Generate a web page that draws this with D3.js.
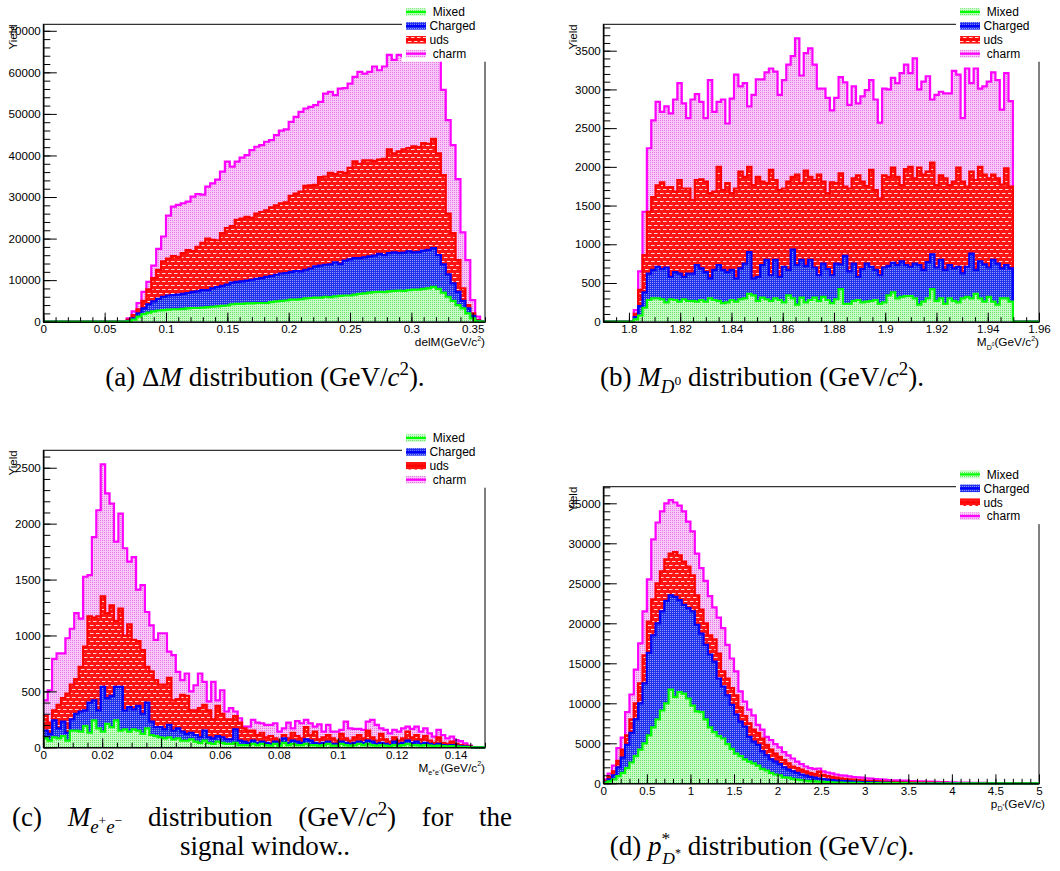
<!DOCTYPE html>
<html>
<head>
<meta charset="utf-8">
<title>D* background composition</title>
<script src="https://cdn.jsdelivr.net/npm/d3@7"></script>
<style>
  html, body { margin: 0; padding: 0; background: #ffffff; }
  svg { display: block; }
  text { white-space: pre; }
</style>
</head>
<body>
<svg id="figure" width="1060" height="871"></svg>
<script>
// Generic MC samples, stacked bottom to top
const samples = ["Mixed", "Charged", "uds", "charm"];

// (a) delM: 90 bins on [0, 0.36]; bins before the first filled bin are empty
const delMRange = [0, 0.36];
const delMBinCount = 90;
const delMFirstBin = 17;
const delMMixed = [100,500,1200,1800,2200,2500,2700,2800,2900,3000,
  3000,3100,3200,3300,3300,3400,3500,3600,3700,3800,
  3900,4200,4300,4300,4400,4400,4500,4500,4500,4700,
  4900,5000,5100,5300,5300,5400,5600,5700,5800,5800,
  6000,5900,6100,6200,6300,6300,6500,6700,6800,7000,
  7100,7200,7100,7300,7400,7500,7400,7600,7700,7700,
  7900,8000,8400,7900,7000,6000,5000,4000,3200,2000,
  800,100];
const delMCharged = [100,300,800,1400,2000,2400,2800,3200,3400,3400,
  3500,3600,3700,3900,4000,4200,4100,4400,4600,4800,
  5000,5200,5300,5400,5500,5700,5800,6000,6300,6300,
  6400,6600,6600,6700,6900,6700,6900,7100,7500,7700,
  7700,7900,8200,7700,8400,8700,8800,8600,8700,8700,
  8800,9100,8900,9200,9300,9000,9200,9300,9000,9100,
  9200,9300,9300,8100,6800,5400,4200,3200,1800,1200,
  600,100];
const delMUds = [300,800,1000,1800,3600,5600,7000,8500,8900,9400,
  9100,9800,10300,9800,10700,11400,12400,11700,11300,12700,
  13600,13600,14900,15100,15300,14900,15700,15900,16000,16500,
  16700,16900,17000,18300,18600,19200,20200,20000,19600,21300,
  21200,22000,21200,22100,21100,22000,23300,22700,23300,23100,
  22800,22700,23200,25000,23800,24500,24900,24900,25500,25200,
  25900,25500,26300,24500,21500,14600,12100,7600,3000,800,
  600,200];
const delMCharm = [300,900,1500,2200,1800,3000,5000,6000,10300,11900,
  12500,12000,11700,13100,12700,11600,12500,13600,14600,14800,
  16000,14300,14000,14700,14900,16300,16100,16100,16500,16200,
  16900,17500,17600,17800,18500,19200,18600,18900,19200,18100,
  20000,19500,19000,20100,20400,20300,20300,22100,20900,21300,
  22700,21500,22200,22700,22500,23200,22400,22600,21600,22600,
  21300,21700,20100,23100,20500,22500,21200,19500,13500,10800,
  3200,800];
const delMXTicks = [0, 0.05, 0.1, 0.15, 0.2, 0.25, 0.3, 0.35];
const delMYTicks = [0, 10000, 20000, 30000, 40000, 50000, 60000, 70000];

// (b) M(D0): 100 bins on [1.79, 1.96]
const mD0Range = [1.79, 1.96];
const mD0BinCount = 100;
const mD0FirstBin = 6;
const mD0Mixed = [0,30,80,180,280,300,300,290,250,290,
  280,260,290,270,270,260,280,260,300,280,
  270,240,250,280,260,290,300,360,340,270,
  310,290,270,300,280,250,340,300,220,310,
  250,280,310,270,320,280,240,290,420,230,
  230,270,280,250,260,270,280,230,250,340,
  380,300,320,330,330,300,220,260,300,420,
  270,300,230,300,270,250,300,320,300,360,
  300,260,320,260,220,300,300,260];
const mD0Charged = [0,30,120,200,340,370,410,390,450,290,
  360,360,290,350,350,470,410,380,260,390,
  460,430,390,390,300,400,450,540,220,310,
  420,510,330,500,300,460,330,630,510,490,
  470,520,390,330,430,400,360,460,320,620,
  420,480,300,430,490,440,390,370,450,380,
  380,430,460,400,380,450,510,410,470,450,
  430,500,440,430,420,460,325,390,580,310,
  480,480,380,540,530,390,430,430];
const mD0Uds = [0,40,210,480,800,940,1050,1120,1035,1160,
  1040,1210,1140,1100,950,1100,1150,1170,1100,1010,
  1270,1030,1150,990,1160,1250,1120,1100,1205,1290,
  1080,990,1360,1030,1120,1010,1140,940,1170,990,
  1230,1070,1130,1300,1060,980,1200,1040,1175,895,
  1070,1100,1310,1130,1000,1250,1030,990,1190,1150,
  1230,1140,985,1240,1290,1100,1260,1230,1170,1185,
  1065,1090,1180,1035,1120,1280,1185,1035,1060,1160,
  1220,1160,1150,1100,1100,1080,1250,1055];
const mD0Charm = [0,50,240,560,820,990,1080,910,1045,950,
  1190,1250,1100,910,1300,1110,1000,820,1460,1030,
  840,1170,770,1220,1470,1100,1210,780,1165,1260,
  1320,1430,1310,1400,1230,1400,1510,1560,1760,1390,
  1520,1660,1490,1110,1200,1230,930,1100,1245,1345,
  1080,1190,930,1100,1240,1160,1170,980,1120,1130,
  1160,1210,1445,1350,1210,1550,1010,1200,1230,815,
  1165,1080,1100,1185,1430,1200,820,1525,1140,1440,
  1010,1140,1250,1320,1270,970,1230,1105];
const mD0XTicks = [1.8, 1.82, 1.84, 1.86, 1.88, 1.9, 1.92, 1.94, 1.96];
const mD0YTicks = [0, 500, 1000, 1500, 2000, 2500, 3000, 3500];

// (c) M(e+e-) in the signal window: 100 bins on [0, 0.15]
const mEERange = [0, 0.15];
const mEEBinCount = 100;
const mEEFirstBin = 0;
const mEEMixed = [80,60,90,80,100,60,150,150,140,190,
  130,240,170,140,210,180,240,150,160,140,
  160,150,120,170,110,100,90,80,90,70,
  80,60,60,70,50,40,60,40,30,50,
  40,30,30,40,20,20,20,30,20,30,
  20,15,30,15,40,20,30,20,20,30,
  20,20,15,20,30,15,15,30,20,15,
  20,30,20,30,20,15,20,15,10,20,
  15,20,30,20,20,15,20,15,10,15,
  10,8,10,8,5,4,2];
const mEECharged = [70,60,150,90,130,70,100,150,180,140,
  270,180,160,400,230,280,300,390,170,220,
  180,220,180,230,120,80,90,80,110,80,
  90,80,60,60,60,50,90,50,50,50,
  50,40,40,120,40,30,20,30,20,20,
  20,15,20,15,40,20,30,30,20,40,
  40,20,15,20,20,15,15,20,20,15,
  20,20,20,30,30,15,20,15,10,30,
  15,20,30,20,30,15,20,15,10,15,
  10,7,10,7,5,4,2];
const mEEUds = [130,100,90,210,210,350,310,310,400,570,
  770,740,840,810,760,810,590,700,670,740,
  620,580,570,320,450,420,380,400,420,270,
  260,330,340,200,220,260,230,240,170,270,
  210,180,180,120,160,120,110,90,70,80,
  50,70,30,30,30,40,70,50,40,110,
  50,100,40,50,60,50,30,70,40,30,
  50,60,40,90,40,30,80,40,30,40,
  30,40,80,50,60,40,60,30,20,60,
  20,15,30,15,10,7,4];
const mEECharm = [140,290,460,460,400,495,500,590,430,625,
  370,720,950,1180,1070,910,710,850,780,560,
  740,460,580,490,410,360,460,460,235,405,
  245,130,200,170,225,310,205,80,335,50,
  210,70,100,40,40,15,35,95,110,85,
  110,100,135,80,60,140,40,135,135,65,
  105,45,135,50,90,60,80,35,150,110,
  75,55,75,80,155,140,50,85,75,65,
  80,90,45,75,75,70,70,65,55,65,
  70,50,45,35,35,20,7];
const mEEXTicks = [0, 0.02, 0.04, 0.06, 0.08, 0.1, 0.12, 0.14];
const mEEYTicks = [0, 500, 1000, 1500, 2000, 2500];

// (d) p*(D*): 100 bins on [0, 5]
const pDRange = [0, 5];
const pDBinCount = 100;
const pDFirstBin = 0;
const pDMixed = [100,250,500,900,1300,1900,2600,3400,4200,5000,
  6000,7000,8000,9100,10000,11700,10800,11400,11200,10600,
  9700,9000,8900,8000,7000,6400,5900,5600,4900,4300,
  3700,3400,3000,2700,2500,2200,1800,1600,1300,1100,
  1000,750,700,550,450,380,320,270,230,200,
  170,140,120,100,85,70,60,50,45,40,
  35,30,25,22,20,17,15,13,11,10,
  9,8,7,6,5,4,4,3,3,2,
  2,2,1,1,1,1,1,1,0,0,
  0,0,0,0,0,0,0,0,0,0];
const pDCharged = [50,250,500,1100,1900,2900,3700,4600,5800,7500,
  10300,11500,12000,12400,12800,11800,12500,11500,11100,11300,
  11800,10800,9800,9300,9100,8800,7200,6500,6100,5500,
  4900,4300,4100,3100,2700,2600,2200,1900,1700,1600,
  1400,1250,1000,950,850,720,630,530,470,400,
  350,310,280,240,215,190,170,150,135,120,
  105,90,85,73,65,58,50,45,39,35,
  31,27,23,21,19,17,14,13,11,10,
  8,7,7,6,5,4,3,3,3,3,
  2,2,2,1,1,1,1,0,0,0];
const pDUds = [150,300,500,800,1000,1200,1700,2000,2500,3500,
  3900,4500,5000,5000,5200,5200,5600,5600,5400,5200,
  4500,3700,3000,2700,2400,2800,3100,1900,2100,2100,
  2400,1800,1300,1700,1500,1500,1600,1300,1200,1000,
  900,900,800,600,600,600,550,500,450,850,
  530,450,400,360,320,290,270,250,220,200,
  180,170,150,140,125,115,105,97,90,80,
  70,65,60,53,48,44,40,36,32,28,
  26,23,20,18,16,15,14,12,11,9,
  8,7,6,6,5,4,3,3,2,1];
const pDCharm = [200,400,700,1600,1500,2900,3100,4200,5000,5500,
  5300,7500,7600,7500,7000,6700,6200,6200,6300,5600,
  5500,5200,5200,5300,4900,4000,4500,5400,4200,3700,
  3000,2000,1800,1700,1800,1000,1100,1000,1200,1200,
  1200,1000,1000,1000,800,700,600,600,650,400,
  450,450,450,400,380,400,370,340,350,340,
  300,290,280,265,240,220,200,215,190,205,
  180,180,160,160,128,135,132,108,104,80,
  74,68,62,55,48,40,32,29,26,23,
  20,16,12,11,9,7,6,5,3,2];
const pDXTicks = [0, 0.5, 1, 1.5, 2, 2.5, 3, 3.5, 4, 4.5, 5];
const pDYTicks = [0, 5000, 10000, 15000, 20000, 25000, 30000, 35000];

// ---------------------------------------------------------------------------
const svg = d3.select("#figure");
const defs = svg.append("defs");

const sansFont = '"Liberation Sans", Arial, Helvetica, sans-serif';
const serifFont = '"Liberation Serif", "Times New Roman", serif';

// ROOT-like stippled fills for the four samples: [x, y, w, h, colour] marks over a base colour
function addPattern(id, w, h, base, marks) {
  const p = defs.append("pattern").attr("id", id)
    .attr("patternUnits", "userSpaceOnUse").attr("width", w).attr("height", h);
  p.append("rect").attr("width", w).attr("height", h).attr("fill", base);
  marks.forEach(m => p.append("rect").attr("x", m[0]).attr("y", m[1])
    .attr("width", m[2]).attr("height", m[3]).attr("fill", m[4]));
}
addPattern("fill-Mixed", 2, 2, "#c8fbc8", [[0, 0, 1, 1, "#66e866"]]);
addPattern("fill-Charged", 2, 2, "#2233ee", [[0, 0, 1, 1, "#9098f4"]]);
addPattern("fill-uds", 6, 8, "#ff1414",
  [[0, 1, 3.5, 1, "#ffd8d8"], [3, 5, 3.5, 1, "#ffd8d8"], [-3, 5, 3.5, 1, "#ffd8d8"]]);
addPattern("fill-charm", 2, 2, "#f8c8f8", [[0, 0, 1, 1, "#e878e8"]]);

const lineColor = { Mixed: "#00ff00", Charged: "#0000ff", uds: "#ff0000", charm: "#ff00ff" };

// Text with sub/superscripts: each part may carry scale, shift (em, up) and dx (em)
function richText(sel, parts, size) {
  let cur = 0;
  parts.forEach(p => {
    const ts = sel.append("tspan").text(p.t).attr("font-size", size * (p.scale || 1));
    const off = -(p.shift || 0) * size;
    if (off !== cur) ts.attr("dy", off - cur);
    if (p.dx) ts.attr("dx", p.dx * size);
    if (p.italic) ts.attr("font-style", "italic");
    cur = off;
  });
  return sel;
}

function stepValues(lo, hi, step) {
  const a = Math.ceil(lo / step - 1e-9), b = Math.floor(hi / step + 1e-9);
  return d3.range(a, b + 1).map(k => +(k * step).toFixed(6));
}

function drawPanel(spec) {
  const f = spec.frame;
  const x = d3.scaleLinear().domain(spec.range).range([f.left, f.right]);
  const y = d3.scaleLinear().domain([0, spec.yTop]).range([f.bottom, f.top]);
  const g = svg.append("g");

  // histogram rows: one per bin, plus a closing edge
  const bw = (spec.range[1] - spec.range[0]) / spec.bins;
  const rows = d3.range(spec.bins).map(i => {
    const r = { edge: spec.range[0] + i * bw };
    samples.forEach((s, j) => {
      const k = i - spec.first;
      r[s] = (k >= 0 && k < spec.values[j].length) ? spec.values[j][k] : 0;
    });
    return r;
  });
  rows.push(Object.assign({}, rows[rows.length - 1], { edge: spec.range[1] }));
  const layers = d3.stack().keys(samples)(rows);

  const clipId = "clip-" + spec.key;
  defs.append("clipPath").attr("id", clipId).append("rect")
    .attr("x", f.left).attr("y", f.top)
    .attr("width", f.right - f.left).attr("height", f.bottom - f.top + 2);

  // frame
  g.append("rect").attr("x", f.left).attr("y", f.top)
    .attr("width", f.right - f.left).attr("height", f.bottom - f.top)
    .attr("fill", "none").attr("stroke", "#000").attr("stroke-width", 1);

  // stacked histograms: each cumulative sum drawn from zero, top-most first
  const hg = g.append("g").attr("clip-path", `url(#${clipId})`);
  const area = d3.area().curve(d3.curveStepAfter)
    .x(d => x(d.data.edge)).y0(y(0)).y1(d => y(d[1]));
  const line = d3.line().curve(d3.curveStepAfter)
    .x(d => x(d.data.edge)).y(d => y(d[1]));
  layers.slice().reverse().forEach(layer => {
    hg.append("path").datum(layer).attr("d", area).attr("fill", `url(#fill-${layer.key})`);
    hg.append("path").datum(layer).attr("d", line).attr("fill", "none")
      .attr("stroke", lineColor[layer.key]).attr("stroke-width", 2.2)
      .attr("stroke-linejoin", "miter");
  });

  // axes
  const styleAxis = a => a.attr("font-family", sansFont).attr("font-size", 11.6)
    .call(s => s.selectAll("text").attr("fill", "#000"))
    .call(s => s.selectAll("line,path").attr("stroke", "#000"));

  g.append("g").attr("transform", `translate(0,${f.bottom})`)
    .call(d3.axisBottom(x).tickValues(stepValues(spec.range[0], spec.range[1], spec.xMinor))
      .tickSizeInner(-4.5).tickSizeOuter(0).tickFormat(""))
    .call(styleAxis);
  g.append("g").attr("transform", `translate(0,${f.bottom})`)
    .call(d3.axisBottom(x).tickValues(spec.xTicks).tickSizeInner(-9).tickSizeOuter(0)
      .tickPadding(3.5).tickFormat(d => String(d)))
    .call(styleAxis);
  g.append("g").attr("transform", `translate(${f.left},0)`)
    .call(d3.axisLeft(y).tickValues(stepValues(0, spec.yTop, spec.yMinor))
      .tickSizeInner(-7).tickSizeOuter(0).tickFormat(""))
    .call(styleAxis);
  g.append("g").attr("transform", `translate(${f.left},0)`)
    .call(d3.axisLeft(y).tickValues(spec.yTicks).tickSizeInner(-13.5).tickSizeOuter(0)
      .tickPadding(2.5).tickFormat(d3.format("d")))
    .call(styleAxis);

  // axis titles
  g.append("text")
    .attr("transform", `translate(${f.left - 26.6},${f.top}) rotate(-90)`)
    .attr("text-anchor", "end").attr("font-family", sansFont).attr("font-size", 11.5)
    .text("Yield");
  richText(g.append("text").attr("x", f.right + (spec.titleShift || 0)).attr("y", f.bottom + 24.5)
    .attr("text-anchor", "end").attr("font-family", sansFont), spec.xTitle, 11.8);

  // legend (white box over the frame corner)
  const lx = f.right - 83, lb = f.top + 37.4;
  const lg = g.append("g");
  lg.append("rect").attr("x", lx).attr("y", lb - 80).attr("width", 100).attr("height", 80)
    .attr("fill", "#fff");
  const labels = { Mixed: " Mixed", Charged: "Charged", uds: "uds", charm: " charm" };
  samples.forEach((s, i) => {
    const cy = lb - 49.7 + i * 13.9;
    lg.append("rect").attr("x", lx + 4).attr("y", cy - 3.8).attr("width", 20).attr("height", 7.6)
      .attr("fill", `url(#fill-${s})`);
    lg.append("line").attr("x1", lx + 4).attr("x2", lx + 24).attr("y1", cy).attr("y2", cy)
      .attr("stroke", lineColor[s]).attr("stroke-width", 2.2);
    lg.append("text").attr("x", lx + 27.5).attr("y", cy + 4.3)
      .attr("font-family", sansFont).attr("font-size", 12).attr("fill", "#000")
      .text(labels[s]);
  });
}

const panelSpecs = [
  { key: "a", frame: { left: 43.3, right: 485, top: 24.3, bottom: 321.7 },
    range: delMRange, bins: delMBinCount, first: delMFirstBin,
    values: [delMMixed, delMCharged, delMUds, delMCharm],
    yTop: 71560, xTicks: delMXTicks, yTicks: delMYTicks, xMinor: 0.01, yMinor: 2000,
    xTitle: [{ t: "delM(GeV/c" }, { t: "2", scale: 0.6, shift: 0.45 }, { t: ")" }] },
  { key: "b", frame: { left: 603.3, right: 1039, top: 24.3, bottom: 321.7 },
    range: mD0Range, bins: mD0BinCount, first: mD0FirstBin,
    values: [mD0Mixed, mD0Charged, mD0Uds, mD0Charm],
    yTop: 3841, xTicks: mD0XTicks, yTicks: mD0YTicks, xMinor: 0.005, yMinor: 100,
    xTitle: [{ t: "M" }, { t: "D", scale: 0.6, shift: -0.3 }, { t: "0", scale: 0.4, shift: 0.02 },
             { t: "(GeV/c" }, { t: "2", scale: 0.6, shift: 0.45 }, { t: ")" }] },
  { key: "c", frame: { left: 43.3, right: 485, top: 450.3, bottom: 747.3 },
    range: mEERange, bins: mEEBinCount, first: mEEFirstBin,
    values: [mEEMixed, mEECharged, mEEUds, mEECharm],
    yTop: 2656, xTicks: mEEXTicks, yTicks: mEEYTicks, xMinor: 0.005, yMinor: 100,
    xTitle: [{ t: "M" }, { t: "e", scale: 0.6, shift: -0.3 }, { t: "+", scale: 0.4, shift: 0.02 },
             { t: "e", scale: 0.6, shift: -0.3 }, { t: "-", scale: 0.4, shift: 0.02 },
             { t: "(GeV/c" }, { t: "2", scale: 0.6, shift: 0.45 }, { t: ")" }] },
  { key: "d", frame: { left: 603.3, right: 1039, top: 486.7, bottom: 783.3 },
    range: pDRange, bins: pDBinCount, first: pDFirstBin,
    values: [pDMixed, pDCharged, pDUds, pDCharm],
    yTop: 37075, xTicks: pDXTicks, yTicks: pDYTicks, xMinor: 0.1, yMinor: 1000, titleShift: 6,
    xTitle: [{ t: "p" }, { t: "D", scale: 0.6, shift: -0.3 }, { t: "*", scale: 0.4, shift: 0.02 },
             { t: "(GeV/c)" }] }
];
panelSpecs.forEach(drawPanel);

// sub-figure captions
const capSize = 27;
function caption(cx, cy, parts, anchor) {
  return richText(svg.append("text").attr("x", cx).attr("y", cy)
    .attr("text-anchor", anchor || "middle")
    .attr("font-family", serifFont).attr("fill", "#000"), parts, capSize);
}
caption(265, 386, [{ t: "(a) Δ" }, { t: "M", italic: true }, { t: " distribution (GeV/" },
  { t: "c", italic: true }, { t: "2", scale: 0.7, shift: 0.42 }, { t: ")." }]);
caption(762, 386, [{ t: "(b) " }, { t: "M", italic: true },
  { t: "D", italic: true, scale: 0.7, shift: -0.25 }, { t: "0", scale: 0.5, shift: 0.05 },
  { t: " distribution (GeV/" }, { t: "c", italic: true }, { t: "2", scale: 0.7, shift: 0.42 }, { t: ")." }]);

// first line of the (c) caption is justified across the column
const capC = caption(12, 826, [{ t: "(c) " }, { t: "M", italic: true },
  { t: "e", italic: true, scale: 0.7, shift: -0.25 }, { t: "+", scale: 0.5, shift: 0.05 },
  { t: "e", italic: true, scale: 0.7, shift: -0.25 }, { t: "\u2212", scale: 0.5, shift: 0.05 },
  { t: " distribution (GeV/" }, { t: "c", italic: true }, { t: "2", scale: 0.7, shift: 0.42 },
  { t: ") for the" }], "start");
{
  const node = capC.node();
  const natural = node.getComputedTextLength();
  const gaps = node.textContent.split(" ").length - 1;
  const target = 500;
  if (gaps > 0 && natural < target) capC.attr("word-spacing", (target - natural) / gaps);
}
caption(265, 855, [{ t: "signal window.." }]);
caption(762, 855, [{ t: "(d) " }, { t: "p", italic: true }, { t: "*", scale: 0.65, shift: 0.4 },
  { t: "D", italic: true, scale: 0.65, shift: -0.32, dx: -0.3 }, { t: "*", scale: 0.45, shift: -0.08 },
  { t: " distribution (GeV/" }, { t: "c", italic: true }, { t: ")." }]);
</script>
</body>
</html>
